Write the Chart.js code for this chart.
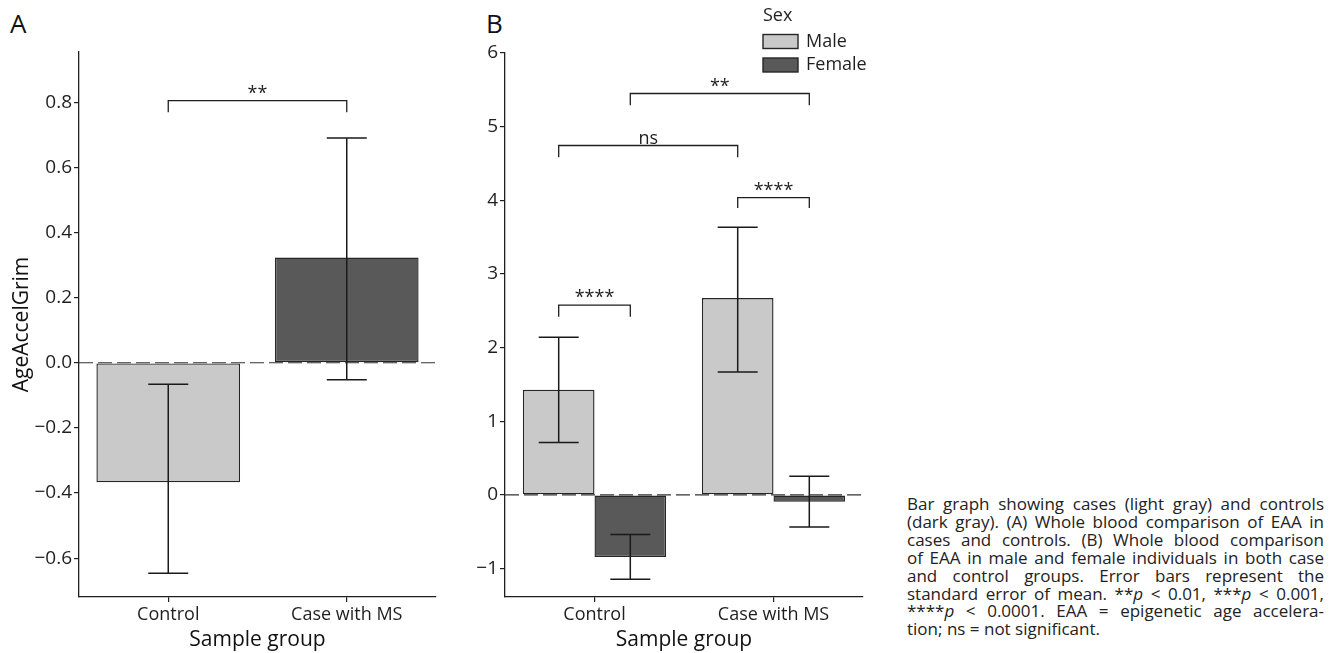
<!DOCTYPE html>
<html>
<head>
<meta charset="utf-8">
<script src="https://cdn.jsdelivr.net/npm/chart.js@4.4.0/dist/chart.umd.min.js"></script>
<style>
  body { margin: 0; background: #fff; width: 1338px; height: 653px; overflow: hidden; position: relative; font-family: "Open Sans", sans-serif; }
  canvas { position: absolute; top: 0; }
  #chartA { left: 0; }
  #chartB { left: 460px; }
  .panel { position: absolute; top: 10px; font-size: 26px; line-height: 26px; color: #111; }
  #caption { position: absolute; left: 907px; top: 495px; width: 417px; font-size: 17px; line-height: 17.9px; color: #222; }
  #caption div { white-space: nowrap; text-align: justify; text-align-last: justify; }
  #caption div:last-child { text-align-last: left; }
</style>
</head>
<body>
<div class="panel" style="left:10px">A</div>
<div class="panel" style="left:486px">B</div>
<canvas id="chartA" width="460" height="653"></canvas>
<canvas id="chartB" width="440" height="653"></canvas>
<div id="caption">
  <div>Bar graph showing cases (light gray) and controls</div>
  <div>(dark gray). (A) Whole blood comparison of EAA in</div>
  <div>cases and controls. (B) Whole blood comparison</div>
  <div>of EAA in male and female individuals in both case</div>
  <div>and control groups. Error bars represent the</div>
  <div>standard error of mean. **<i>p</i> &lt; 0.01, ***<i>p</i> &lt; 0.001,</div>
  <div>****<i>p</i> &lt; 0.0001. EAA = epigenetic age accelera-</div>
  <div>tion; ns = not significant.</div>
</div>
<script>
// ===== DATA =====
const groups = ["Control", "Case with MS"];

// panel A: whole blood, case vs control
const meanA = [-0.367, 0.323];
const errLowA = [-0.646, -0.052];
const errHighA = [-0.066, 0.690];
const ticksA = [-0.6, -0.4, -0.2, 0, 0.2, 0.4, 0.6, 0.8];
const bracketTextA = ["**"];
const bracketFromA = [[0, 0]];
const bracketToA = [[1, 0]];
const bracketTopA = [0.805];
const bracketFootA = [0.769];

// panel B: split by sex
const legendTitle = "Sex";
const sexes = ["Male", "Female"];
const meanMale = [1.427, 2.672];
const meanFemale = [-0.844, -0.093];
const errLowMale = [0.713, 1.67];
const errHighMale = [2.14, 3.634];
const errLowFemale = [-1.144, -0.435];
const errHighFemale = [-0.538, 0.255];
const ticksB = [-1, 0, 1, 2, 3, 4, 5, 6];
// bracket ends are [group index, sex index]
const bracketTextB = ["****", "ns", "****", "**"];
const bracketFromB = [[0, 0], [0, 0], [1, 0], [0, 1]];
const bracketToB = [[0, 1], [1, 0], [1, 1], [1, 1]];
const bracketTopB = [2.576, 4.744, 4.037, 5.45];
const bracketFootB = [2.42, 4.585, 3.895, 5.29];

// ===== STYLE =====
const FONT = '"Open Sans", sans-serif';
const lightGray = "#c9c9c9";
const darkGray = "#595959";
const edge = "#262626";
const ink = "#1f1f1f";

const fmt = (v, digits) => (v < 0 ? "\u2212" : "") + Math.abs(v).toFixed(digits);

const makeBrackets = (text, from, to, top, foot) =>
    text.map((t, i) => ({ text: t, from: from[i], to: to[i], top: top[i], foot: foot[i] }));

// ===== PLUGINS =====
const zeroLine = {
    id: "zeroLine",
    beforeDatasetsDraw(chart) {
        const { ctx, chartArea, scales } = chart;
        const y = scales.y.getPixelForValue(0);
        ctx.save();
        ctx.strokeStyle = "#333";
        ctx.lineWidth = 1.1;
        ctx.setLineDash([14, 5]);
        ctx.beginPath();
        ctx.moveTo(chartArea.left, y);
        ctx.lineTo(chartArea.right, y);
        ctx.stroke();
        ctx.restore();
    }
};

const errorBars = {
    id: "errorBars",
    afterDatasetsDraw(chart) {
        const { ctx } = chart;
        const y = chart.scales.y;
        ctx.save();
        ctx.strokeStyle = "#1a1a1a";
        ctx.lineWidth = 1.5;
        chart.data.datasets.forEach((ds, i) => {
            chart.getDatasetMeta(i).data.forEach((bar, j) => {
                const lo = y.getPixelForValue(ds.errLow[j]);
                const hi = y.getPixelForValue(ds.errHigh[j]);
                ctx.beginPath();
                ctx.moveTo(bar.x, lo); ctx.lineTo(bar.x, hi);
                ctx.moveTo(bar.x - 20, lo); ctx.lineTo(bar.x + 20, lo);
                ctx.moveTo(bar.x - 20, hi); ctx.lineTo(bar.x + 20, hi);
                ctx.stroke();
            });
        });
        ctx.restore();
    }
};

const brackets = {
    id: "brackets",
    afterDraw(chart, args, opts) {
        const { ctx } = chart;
        const y = chart.scales.y;
        const xOf = (p) => chart.getDatasetMeta(p[1]).data[p[0]].x;
        ctx.save();
        ctx.strokeStyle = ink;
        ctx.fillStyle = ink;
        ctx.lineWidth = 1.3;
        ctx.font = "18px " + FONT;
        ctx.textAlign = "center";
        ctx.textBaseline = "alphabetic";
        opts.items.forEach(b => {
            const x1 = xOf(b.from), x2 = xOf(b.to);
            const top = y.getPixelForValue(b.top), foot = y.getPixelForValue(b.foot);
            ctx.beginPath();
            ctx.moveTo(x1, foot); ctx.lineTo(x1, top);
            ctx.lineTo(x2, top); ctx.lineTo(x2, foot);
            ctx.stroke();
            ctx.fillText(b.text, (x1 + x2) / 2, top - 2);
        });
        ctx.restore();
    }
};

const sexLegend = {
    id: "sexLegend",
    afterDraw(chart) {
        const { ctx, chartArea } = chart;
        const x0 = chartArea.right - 100;
        ctx.save();
        ctx.font = "18px " + FONT;
        ctx.textBaseline = "middle";
        ctx.fillStyle = ink;
        ctx.fillText(legendTitle, x0, 16);
        chart.data.datasets.forEach((ds, i) => {
            const top = 34.5 + i * 23.5;
            ctx.fillStyle = ds.backgroundColor;
            ctx.fillRect(x0, top, 35, 14);
            ctx.strokeStyle = edge;
            ctx.lineWidth = 1.4;
            ctx.strokeRect(x0, top, 35, 14);
            ctx.fillStyle = ink;
            ctx.fillText(ds.label, x0 + 43, top + 7);
        });
        ctx.restore();
    }
};

// ===== SHARED AXES =====
function xAxis() {
    return {
        afterFit: s => { s.height = 56; },
        ticks: { font: { family: FONT, size: 18 }, color: ink, padding: 2 },
        grid: { drawOnChartArea: false, offset: false, tickLength: 5, color: ink, lineWidth: 1.2 },
        border: { color: ink, width: 1.3 },
        title: { display: true, text: "Sample group", font: { family: FONT, size: 21 }, color: "#111", padding: { top: 0, bottom: 0.5 } }
    };
}

function yAxis(min, max, tickList, digits, width) {
    return {
        min: min,
        max: max,
        afterBuildTicks: s => { s.ticks = tickList.map(v => ({ value: v })); },
        afterFit: s => { s.width = width; },
        ticks: { callback: v => fmt(v, digits), font: { family: FONT, size: 19 }, color: ink, padding: 2 },
        grid: { drawOnChartArea: false, tickLength: 5, color: ink, lineWidth: 1.2 },
        border: { color: ink, width: 1.3 }
    };
}

// ===== PANEL A =====
const yA = yAxis(-0.719, 0.954, ticksA, 1, 79);
yA.title = { display: true, text: "AgeAccelGrim", font: { family: FONT, size: 21 }, color: "#111", padding: { top: 9, bottom: 0 } };

new Chart(document.getElementById("chartA"), {
    type: "bar",
    data: {
        labels: groups,
        datasets: [{
            label: "AgeAccelGrim",
            data: meanA,
            errLow: errLowA,
            errHigh: errHighA,
            backgroundColor: [lightGray, darkGray],
            borderColor: edge,
            borderWidth: 1.4,
            borderSkipped: false,
            categoryPercentage: 0.805,
            barPercentage: 1
        }]
    },
    options: {
        responsive: false,
        animation: false,
        layout: { padding: { left: 0, top: 52, right: 24, bottom: 0 } },
        plugins: {
            legend: { display: false },
            tooltip: { enabled: false },
            brackets: { items: makeBrackets(bracketTextA, bracketFromA, bracketToA, bracketTopA, bracketFootA) }
        },
        scales: { x: xAxis(), y: yA }
    },
    plugins: [zeroLine, errorBars, brackets]
});

// ===== PANEL B =====
new Chart(document.getElementById("chartB"), {
    type: "bar",
    data: {
        labels: groups,
        datasets: [{
            label: sexes[0],
            data: meanMale,
            errLow: errLowMale,
            errHigh: errHighMale,
            backgroundColor: lightGray,
            borderColor: edge,
            borderWidth: 1.4,
            borderSkipped: false,
            categoryPercentage: 0.8,
            barPercentage: 1
        }, {
            label: sexes[1],
            data: meanFemale,
            errLow: errLowFemale,
            errHigh: errHighFemale,
            backgroundColor: darkGray,
            borderColor: edge,
            borderWidth: 1.4,
            borderSkipped: false,
            categoryPercentage: 0.8,
            barPercentage: 1
        }]
    },
    options: {
        responsive: false,
        animation: false,
        layout: { padding: { left: 0, top: 53, right: 37, bottom: 0 } },
        plugins: {
            legend: { display: false },
            tooltip: { enabled: false },
            brackets: { items: makeBrackets(bracketTextB, bracketFromB, bracketToB, bracketTopB, bracketFootB) }
        },
        scales: { x: xAxis(), y: yAxis(-1.386, 6, ticksB, 0, 45) }
    },
    plugins: [zeroLine, errorBars, brackets, sexLegend]
});
</script>
</body>
</html>
